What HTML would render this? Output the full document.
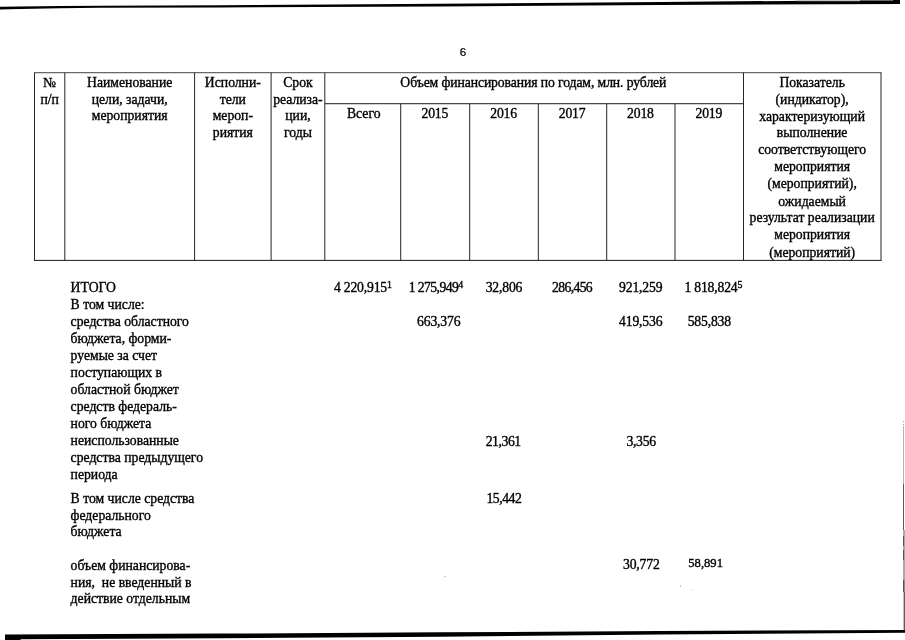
<!DOCTYPE html>
<html lang="ru"><head><meta charset="utf-8"><title>6</title>
<style>
html,body{margin:0;padding:0;background:#fff;}
#page{position:relative;width:905px;height:640px;overflow:hidden;background:#fff;font-family:"Liberation Serif",serif;color:#000;}
.t{position:absolute;white-space:nowrap;font-size:13.7px;line-height:17px;height:17px;-webkit-text-stroke:0.35px #000;}
sup{font-size:72%;vertical-align:baseline;position:relative;top:-4px;line-height:0;letter-spacing:0;}
#pn{position:absolute;left:459.8px;top:44.5px;font-family:"Liberation Sans",sans-serif;font-size:11.6px;line-height:14px;-webkit-text-stroke:0.2px #000;}
svg{position:absolute;left:0;top:0;}
</style></head><body>
<div id="page">
<svg width="905" height="640" viewBox="0 0 905 640">
<rect x="34.00" y="72.20" width="847.50" height="1.0" fill="#444"/>
<rect x="33.90" y="259.88" width="847.70" height="1.05" fill="#262626"/>
<rect x="324.80" y="103.17" width="418.70" height="1.05" fill="#262626"/>
<rect x="34.00" y="72.70" width="1.0" height="187.70" fill="#262626"/>
<rect x="64.30" y="72.70" width="1.0" height="187.70" fill="#262626"/>
<rect x="194.10" y="72.70" width="1.0" height="187.70" fill="#262626"/>
<rect x="270.60" y="72.70" width="1.0" height="187.70" fill="#262626"/>
<rect x="324.30" y="72.70" width="1.0" height="187.70" fill="#262626"/>
<rect x="400.20" y="103.70" width="1.0" height="156.70" fill="#262626"/>
<rect x="469.20" y="103.70" width="1.0" height="156.70" fill="#262626"/>
<rect x="537.80" y="103.70" width="1.0" height="156.70" fill="#262626"/>
<rect x="606.20" y="103.70" width="1.0" height="156.70" fill="#262626"/>
<rect x="674.50" y="103.70" width="1.0" height="156.70" fill="#262626"/>
<rect x="743.00" y="72.70" width="1.0" height="187.70" fill="#262626"/>
<rect x="880.50" y="72.70" width="1.0" height="187.70" fill="#262626"/>
<polygon fill="#000" points="0,6.7 60,6.1 100,5.7 220,5.3 440,3.7 660,2 860,0.3 900,0 900,4 660,5 440,6.5 220,7.4 100,7.7 60,8.3 20,9.1 0,9.5"/>
<polygon fill="#000" points="5,634.5 60,634.3 220,633.6 440,632.3 660,631 905,630 905,632.7 660,634.5 440,636.7 220,638.3 21,639.3 20,640 5,640"/>
<rect x="903" y="426" width="1" height="58" fill="#b4b4b4"/>
<rect x="903" y="484" width="1" height="46" fill="#5a5a5a"/>
<rect x="903" y="530" width="2" height="62" fill="#a8a8a8"/>
<rect x="903" y="536" width="1" height="10" fill="#555"/>
<rect x="903" y="550" width="1" height="10" fill="#555"/>
<rect x="903" y="580" width="1.3" height="12" fill="#555"/>
<rect x="903.6" y="592" width="1.4" height="38" fill="#606060"/>
<rect x="903" y="421" width="1" height="1" fill="#999"/>
<rect x="903" y="424" width="1" height="1" fill="#999"/>
<rect x="680" y="585.6" width="1.2" height="0.8" fill="#777"/>
<rect x="692" y="589.6" width="0.8" height="0.8" fill="#999"/>
<rect x="444.3" y="576.3" width="1.2" height="0.8" fill="#888"/>
<rect x="797" y="0" width="63" height="1.2" fill="#c4c4c4"/>
<rect x="860" y="0" width="33" height="1" fill="#6a6a6a"/>
</svg>
<div id="pn">6</div>
<div class="t" style="left:-100.35px;width:300px;text-align:center;top:73.88px;">№</div>
<div class="t" style="left:-100.35px;width:300px;text-align:center;top:90.88px;">п/п</div>
<div class="t" style="left:-20.30px;width:300px;text-align:center;top:73.88px;">Наименование</div>
<div class="t" style="left:-20.30px;width:300px;text-align:center;top:90.88px;">цели, задачи,</div>
<div class="t" style="left:-20.30px;width:300px;text-align:center;top:106.88px;">мероприятия</div>
<div class="t" style="left:82.85px;width:300px;text-align:center;top:73.88px;">Исполни-</div>
<div class="t" style="left:82.85px;width:300px;text-align:center;top:90.88px;">тели</div>
<div class="t" style="left:82.85px;width:300px;text-align:center;top:106.88px;">мероп-</div>
<div class="t" style="left:82.85px;width:300px;text-align:center;top:123.88px;">риятия</div>
<div class="t" style="left:147.95px;width:300px;text-align:center;top:73.88px;">Срок</div>
<div class="t" style="left:147.95px;width:300px;text-align:center;top:90.88px;">реализа-</div>
<div class="t" style="left:147.95px;width:300px;text-align:center;top:106.88px;">ции,</div>
<div class="t" style="left:147.95px;width:300px;text-align:center;top:123.88px;">годы</div>
<div class="t" style="left:383.35px;width:300px;text-align:center;top:73.88px;letter-spacing:-0.1px;">Объем финансирования по годам, млн. рублей</div>
<div class="t" style="left:213.75px;width:300px;text-align:center;top:104.88px;">Всего</div>
<div class="t" style="left:284.80px;width:300px;text-align:center;top:104.88px;letter-spacing:-0.18px;">2015</div>
<div class="t" style="left:353.60px;width:300px;text-align:center;top:104.88px;letter-spacing:-0.18px;">2016</div>
<div class="t" style="left:422.10px;width:300px;text-align:center;top:104.88px;letter-spacing:-0.18px;">2017</div>
<div class="t" style="left:490.45px;width:300px;text-align:center;top:104.88px;letter-spacing:-0.18px;">2018</div>
<div class="t" style="left:558.85px;width:300px;text-align:center;top:104.88px;letter-spacing:-0.18px;">2019</div>
<div class="t" style="left:662.15px;width:300px;text-align:center;top:73.88px;">Показатель</div>
<div class="t" style="left:662.15px;width:300px;text-align:center;top:90.88px;">(индикатор),</div>
<div class="t" style="left:662.15px;width:300px;text-align:center;top:107.88px;">характеризующий</div>
<div class="t" style="left:662.15px;width:300px;text-align:center;top:123.88px;">выполнение</div>
<div class="t" style="left:662.15px;width:300px;text-align:center;top:140.88px;">соответствующего</div>
<div class="t" style="left:662.15px;width:300px;text-align:center;top:157.88px;">мероприятия</div>
<div class="t" style="left:662.15px;width:300px;text-align:center;top:174.88px;">(мероприятий),</div>
<div class="t" style="left:662.15px;width:300px;text-align:center;top:192.88px;">ожидаемый</div>
<div class="t" style="left:662.15px;width:300px;text-align:center;top:208.88px;">результат реализации</div>
<div class="t" style="left:662.15px;width:300px;text-align:center;top:225.88px;">мероприятия</div>
<div class="t" style="left:662.15px;width:300px;text-align:center;top:243.88px;">(мероприятий)</div>
<div class="t" style="left:70.60px;top:278.88px;">ИТОГО</div>
<div class="t" style="left:70.60px;top:295.88px;">В том числе:</div>
<div class="t" style="left:70.60px;top:312.88px;">средства областного</div>
<div class="t" style="left:70.60px;top:329.88px;">бюджета, форми-</div>
<div class="t" style="left:70.60px;top:346.88px;">руемые за счет</div>
<div class="t" style="left:70.60px;top:363.88px;">поступающих в</div>
<div class="t" style="left:70.60px;top:380.88px;">областной бюджет</div>
<div class="t" style="left:70.60px;top:397.88px;">средств федераль-</div>
<div class="t" style="left:70.60px;top:414.88px;">ного бюджета</div>
<div class="t" style="left:70.60px;top:431.88px;">неиспользованные</div>
<div class="t" style="left:70.60px;top:448.88px;">средства предыдущего</div>
<div class="t" style="left:70.60px;top:465.88px;">периода</div>
<div class="t" style="left:70.60px;top:489.88px;">В том числе средства</div>
<div class="t" style="left:70.60px;top:506.88px;">федерального</div>
<div class="t" style="left:70.60px;top:522.88px;">бюджета</div>
<div class="t" style="left:70.60px;top:556.88px;">объем финансирова-</div>
<div class="t" style="left:70.60px;top:573.88px;">ния,&nbsp; не введенный в</div>
<div class="t" style="left:70.60px;top:589.88px;">действие отдельным</div>
<div class="t" style="left:333.90px;top:278.88px;letter-spacing:-0.18px;">4 220,915<sup>1</sup></div>
<div class="t" style="left:408.80px;top:278.88px;letter-spacing:-0.60px;">1 275,949<sup>4</sup></div>
<div class="t" style="left:485.70px;top:278.88px;letter-spacing:-0.18px;">32,806</div>
<div class="t" style="left:552.00px;top:278.88px;letter-spacing:-0.63px;">286,456</div>
<div class="t" style="left:619.10px;top:278.88px;letter-spacing:-0.18px;">921,259</div>
<div class="t" style="left:684.40px;top:278.88px;letter-spacing:-0.18px;">1 818,824<sup>5</sup></div>
<div class="t" style="left:417.10px;top:312.88px;letter-spacing:-0.18px;">663,376</div>
<div class="t" style="left:619.10px;top:312.88px;letter-spacing:-0.18px;">419,536</div>
<div class="t" style="left:687.70px;top:312.88px;letter-spacing:-0.18px;">585,838</div>
<div class="t" style="left:485.70px;top:432.88px;letter-spacing:-0.43px;">21,361</div>
<div class="t" style="left:626.40px;top:432.88px;letter-spacing:-0.28px;">3,356</div>
<div class="t" style="left:486.40px;top:489.88px;letter-spacing:-0.43px;">15,442</div>
<div class="t" style="left:623.00px;top:555.88px;letter-spacing:-0.18px;">30,772</div>
<div class="t" style="left:688.30px;top:555.25px;font-size:12.6px;">58,891</div>
</div>
</body></html>
